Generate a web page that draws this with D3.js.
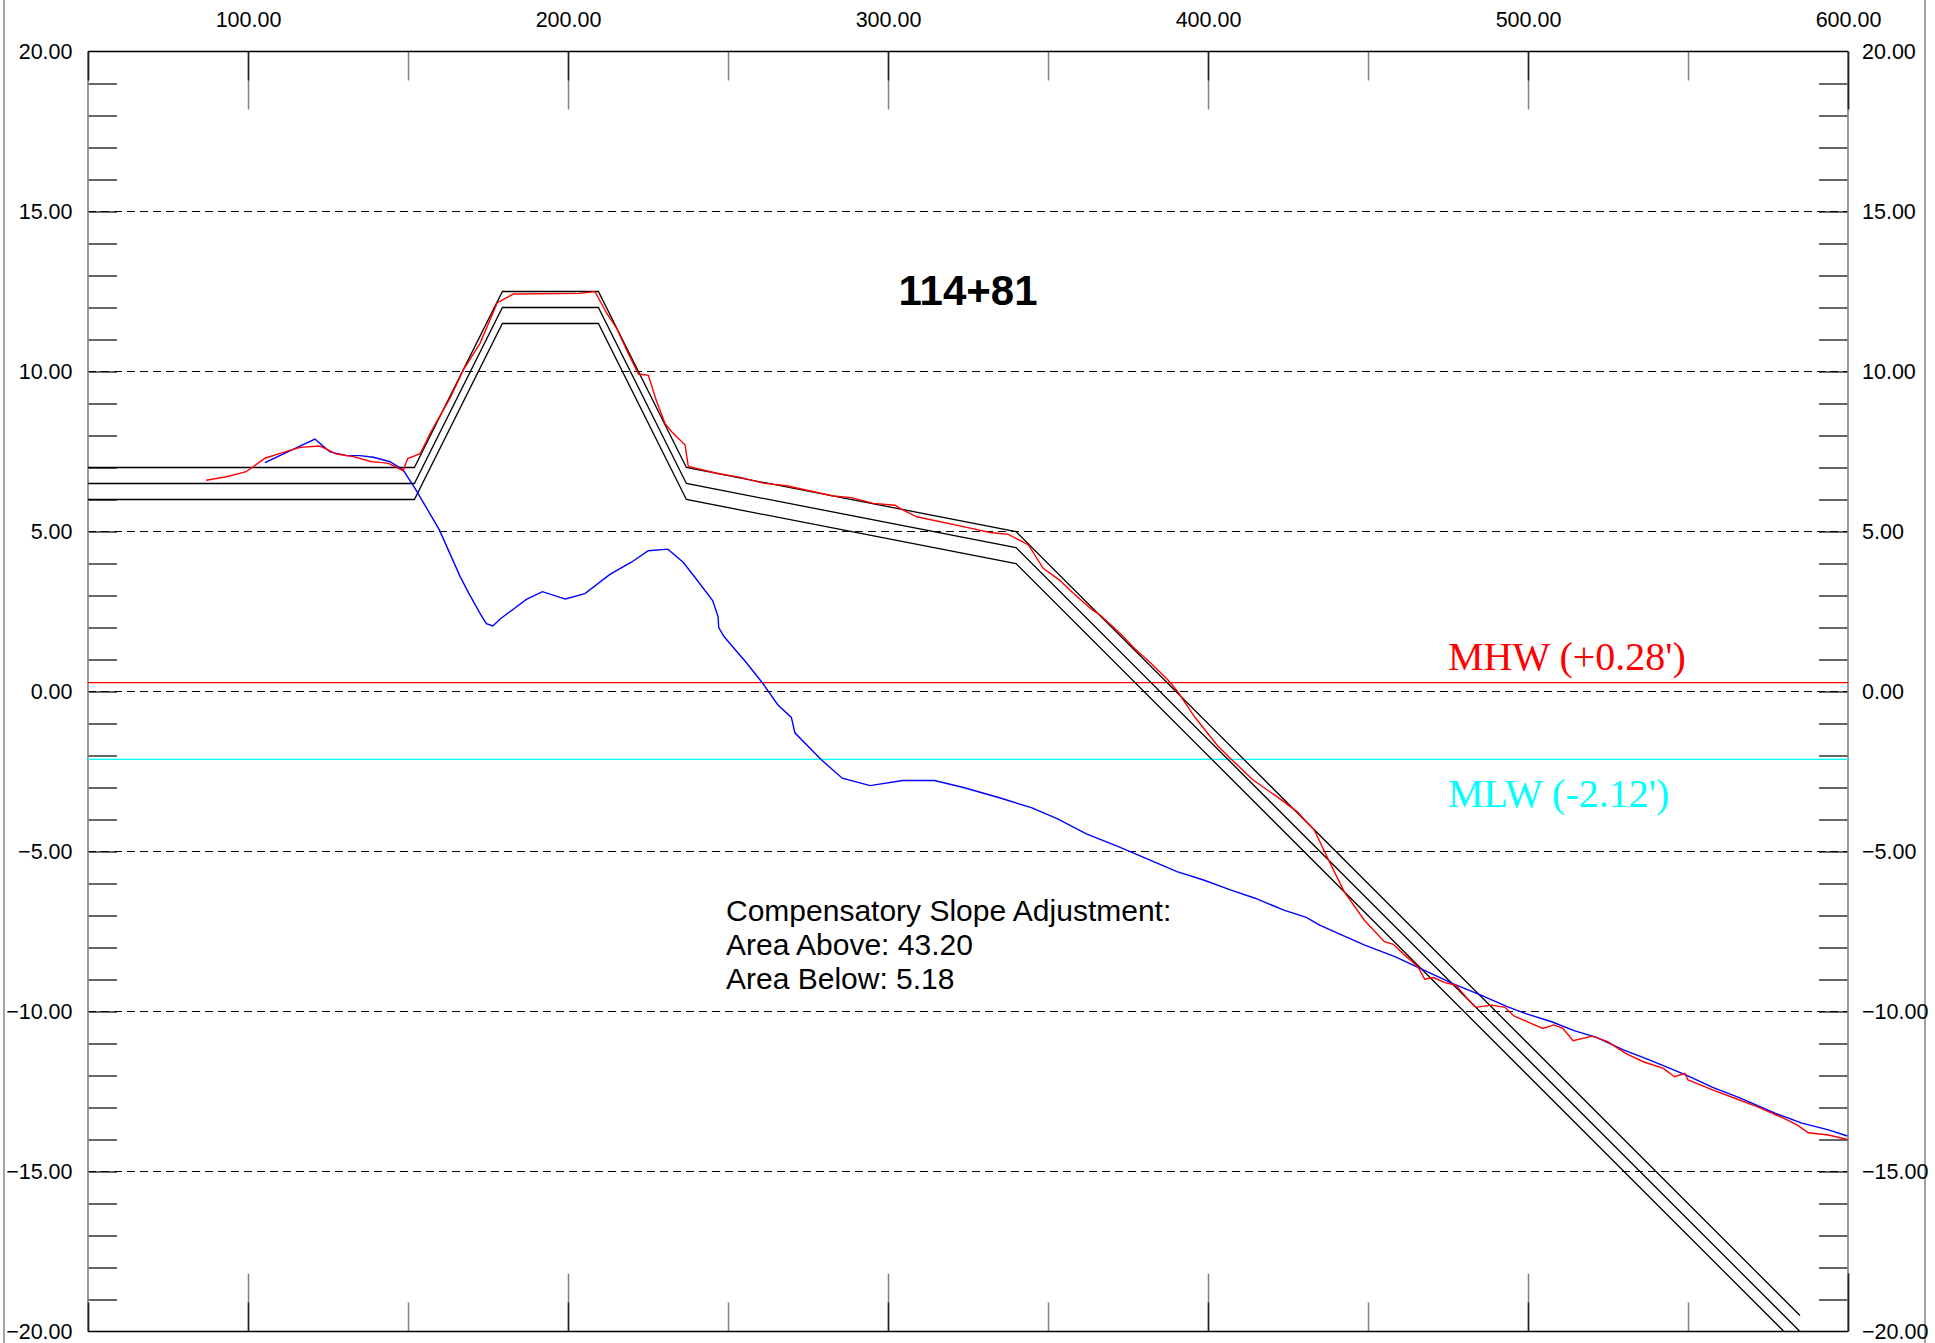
<!DOCTYPE html>
<html>
<head>
<meta charset="utf-8">
<script src="https://cdn.jsdelivr.net/npm/d3@7"></script>
<style>
  html, body { margin: 0; padding: 0; background: #fff; }
  svg { display: block; }
</style>
</head>
<body>
<script>
// ---------------- DATA ----------------
const xMinorTicks = [50, 150, 250, 350, 450, 550];
const xMajorTicks = [100, 200, 300, 400, 500, 600];
const xTickLabels = ["100.00", "200.00", "300.00", "400.00", "500.00", "600.00"];
const yTicks = [19,18,17,16,15,14,13,12,11,10,9,8,7,6,5,4,3,2,1,0,-1,-2,-3,-4,-5,-6,-7,-8,-9,-10,-11,-12,-13,-14,-15,-16,-17,-18,-19];
const yGridValues = [15, 10, 5, 0, -5, -10, -15];
const yLabelValues = [20, 15, 10, 5, 0, -5, -10, -15, -20];

// design template (three parallel lines)
const designX   = [50, 152, 179.5, 209.5, 237, 340, 585];
const designTop = [7.0, 7.0, 12.5, 12.5, 7.0, 5.0, -19.5];
const designMid = [6.5, 6.5, 12.0, 12.0, 6.5, 4.5, -20.0];
const designBot = [6.0, 6.0, 11.5, 11.5, 6.0, 4.0, -20.5];

// red profile
const redX = [86.9, 93.3, 99.4, 101.7, 105.3, 110.0, 116.3, 122.5, 127.7, 132.9, 138.6, 141.3, 143.9, 148.5, 149.9, 153.8, 156.9, 163.1, 167.3, 172.5, 177.9, 182.9, 203.8, 208.4, 212.1, 215.2, 218.3, 222.0, 225.1, 227.7, 230.3, 232.4, 236.6, 237.6, 246.5, 253.8, 261.0, 268.3, 282.9, 288.6, 295.4, 302.2, 304.3, 309.0, 324.6, 331.9, 337.6, 343.9, 348.5, 353.5, 358.0, 363.8, 366.3, 372.5, 377.0, 382.0, 387.5, 390.5, 395.8, 402.8, 407.0, 414.0, 422.3, 427.9, 433.2, 437.7, 442.6, 448.8, 455.1, 457.9, 461.4, 465.6, 467.7, 470.5, 474.0, 477.4, 481.0, 483.7, 488.6, 492.8, 495.6, 504.6, 508.1, 510.9, 514.1, 520.0, 524.9, 530.5, 536.0, 542.3, 545.8, 549.0, 550.0, 557.7, 564.6, 571.6, 580.0, 584.2, 587.6, 593.9, 599.8];
const redY = [6.60, 6.71, 6.87, 7.03, 7.29, 7.44, 7.63, 7.67, 7.42, 7.34, 7.18, 7.16, 7.13, 6.90, 7.28, 7.43, 8.07, 9.16, 10.05, 10.88, 12.15, 12.42, 12.44, 12.50, 11.82, 11.35, 10.67, 9.92, 9.88, 9.06, 8.38, 8.12, 7.70, 7.03, 6.82, 6.69, 6.51, 6.43, 6.11, 6.06, 5.88, 5.82, 5.69, 5.46, 5.13, 4.97, 4.91, 4.58, 3.85, 3.49, 3.06, 2.55, 2.39, 1.82, 1.35, 0.90, 0.36, 0.00, -0.79, -1.67, -2.09, -2.76, -3.34, -3.76, -4.33, -5.27, -6.26, -7.14, -7.82, -7.90, -8.23, -8.60, -8.99, -8.94, -9.10, -9.17, -9.59, -9.87, -9.80, -9.87, -10.14, -10.53, -10.42, -10.53, -10.91, -10.77, -10.94, -11.31, -11.57, -11.78, -12.04, -11.93, -12.14, -12.45, -12.71, -12.97, -13.34, -13.55, -13.79, -13.86, -14.00];

// blue profile
const blueX = [105.3, 120.9, 125.6, 130.8, 135.0, 139.2, 144.4, 148.5, 152.2, 159.8, 166.3, 168.9, 172.5, 174.5, 176.5, 179.0, 183.0, 187.0, 192.0, 197.5, 199.2, 205.3, 213.1, 219.8, 225.1, 231.2, 236.0, 239.9, 245.2, 246.9, 247.1, 248.8, 255.5, 260.6, 265.6, 269.8, 270.9, 279.0, 285.7, 294.4, 304.6, 314.5, 323.6, 334.8, 344.8, 353.0, 362.0, 372.0, 381.9, 390.3, 398.6, 407.0, 414.7, 423.7, 430.7, 434.9, 441.9, 448.8, 458.6, 465.6, 476.7, 485.1, 493.5, 499.1, 507.4, 514.4, 521.4, 529.8, 538.1, 549.3, 557.7, 566.0, 577.2, 585.6, 593.9, 599.8];
const blueY = [7.15, 7.89, 7.49, 7.37, 7.37, 7.32, 7.18, 6.92, 6.35, 5.05, 3.59, 3.09, 2.44, 2.12, 2.05, 2.28, 2.58, 2.88, 3.12, 2.94, 2.89, 3.06, 3.66, 4.04, 4.40, 4.45, 4.04, 3.54, 2.84, 2.34, 2.00, 1.71, 0.93, 0.29, -0.42, -0.81, -1.29, -2.12, -2.71, -2.94, -2.78, -2.78, -3.00, -3.32, -3.63, -3.98, -4.45, -4.85, -5.27, -5.63, -5.89, -6.20, -6.46, -6.83, -7.06, -7.30, -7.61, -7.92, -8.29, -8.62, -9.14, -9.48, -9.85, -10.06, -10.32, -10.60, -10.81, -11.20, -11.52, -11.98, -12.37, -12.69, -13.18, -13.49, -13.70, -13.89];

// tidal datums
const mhwValue = 0.28;
const mlwValue = -2.12;
const mhwLabel = "MHW (+0.28')";
const mlwLabel = "MLW (-2.12')";
const titleText = "114+81";
const noteLines = ["Compensatory Slope Adjustment:", "Area Above: 43.20", "Area Below: 5.18"];

// ---------------- CHART ----------------
const SANS = "Arial, 'Liberation Sans', sans-serif";
const SERIF = "'Times New Roman', 'Liberation Serif', serif";
const W = 1935, H = 1343;
const x = d3.scaleLinear().domain([50, 600]).range([88, 1848]);
const y = d3.scaleLinear().domain([-20, 20]).range([1331.5, 51.5]);
const fmt = d3.format(".2f");

const svg = d3.select("body").append("svg").attr("width", W).attr("height", H);
svg.append("rect").attr("width", W).attr("height", H).attr("fill", "#fff");

// outer frame lines
svg.append("line").attr("x1", 4).attr("x2", 4).attr("y1", 0).attr("y2", H).attr("stroke", "#666").attr("stroke-width", 1.2);
svg.append("line").attr("x1", 1925).attr("x2", 1925).attr("y1", 0).attr("y2", H).attr("stroke", "#666").attr("stroke-width", 1.2);

svg.append("clipPath").attr("id", "plot").append("rect")
  .attr("x", x(50)).attr("y", y(20)).attr("width", x(600) - x(50)).attr("height", y(-20) - y(20));

// dashed grid
svg.append("g").selectAll("line").data(yGridValues).join("line")
  .attr("x1", x(50)).attr("x2", x(600)).attr("y1", d => y(d)).attr("y2", d => y(d))
  .attr("stroke", "#000").attr("stroke-width", 1.2).attr("stroke-dasharray", "8,5");

// y ticks inward (left & right)
const tickStyle = g => { g.select(".domain").remove(); g.selectAll(".tick line").attr("stroke", "#000").attr("stroke-width", 1.2); };
svg.append("g").attr("transform", `translate(${x(50)},0)`)
  .call(d3.axisRight(y).tickValues(yTicks).tickSize(29).tickFormat("")).call(tickStyle);
svg.append("g").attr("transform", `translate(${x(600)},0)`)
  .call(d3.axisLeft(y).tickValues(yTicks).tickSize(29).tickFormat("")).call(tickStyle);

// x ticks inward (top & bottom)
const grayTick = g => { g.select(".domain").remove(); g.selectAll(".tick line").attr("stroke", "#808080").attr("stroke-width", 1.5); };
const blackTick = g => { g.select(".domain").remove(); g.selectAll(".tick line").attr("stroke", "#222").attr("stroke-width", 1.5); };
svg.append("g").attr("transform", `translate(0,${y(20)})`)
  .call(d3.axisBottom(x).tickValues(xMajorTicks).tickSize(58).tickFormat("")).call(grayTick);
svg.append("g").attr("transform", `translate(0,${y(20)})`)
  .call(d3.axisBottom(x).tickValues(xMinorTicks).tickSize(29).tickFormat("")).call(grayTick);
svg.append("g").attr("transform", `translate(0,${y(-20)})`)
  .call(d3.axisTop(x).tickValues(xMajorTicks).tickSize(58).tickFormat("")).call(grayTick);
svg.append("g").attr("transform", `translate(0,${y(-20)})`)
  .call(d3.axisTop(x).tickValues(xMinorTicks).tickSize(29).tickFormat("")).call(grayTick);

// vertical axis lines (gray)
svg.append("line").attr("x1", x(50)).attr("x2", x(50)).attr("y1", y(20)).attr("y2", y(-20)).attr("stroke", "#808080").attr("stroke-width", 1.6);
svg.append("line").attr("x1", x(600)).attr("x2", x(600)).attr("y1", y(20)).attr("y2", y(-20)).attr("stroke", "#808080").attr("stroke-width", 1.6);

// dark portions of ticks
svg.append("g").attr("transform", `translate(0,${y(20)})`)
  .call(d3.axisBottom(x).tickValues(xMajorTicks.slice(0, 5)).tickSize(29).tickFormat("")).call(blackTick);
svg.append("g").attr("transform", `translate(0,${y(-20)})`)
  .call(d3.axisTop(x).tickValues(xMajorTicks.slice(0, 5)).tickSize(29).tickFormat("")).call(blackTick);
svg.append("g").attr("transform", `translate(0,${y(20)})`)
  .call(d3.axisBottom(x).tickValues([600]).tickSize(58).tickFormat("")).call(blackTick);
svg.append("g").attr("transform", `translate(0,${y(-20)})`)
  .call(d3.axisTop(x).tickValues([600]).tickSize(58).tickFormat("")).call(blackTick);
svg.append("g").attr("transform", `translate(0,${y(20)})`)
  .call(d3.axisBottom(x).tickValues([50]).tickSize(29).tickFormat("")).call(blackTick);
svg.append("g").attr("transform", `translate(0,${y(-20)})`)
  .call(d3.axisTop(x).tickValues([50]).tickSize(29).tickFormat("")).call(blackTick);

// horizontal axis lines (black)
svg.append("line").attr("x1", x(50)).attr("x2", x(600)).attr("y1", y(20)).attr("y2", y(20)).attr("stroke", "#000").attr("stroke-width", 1.5);
svg.append("line").attr("x1", x(50)).attr("x2", x(600)).attr("y1", y(-20)).attr("y2", y(-20)).attr("stroke", "#000").attr("stroke-width", 1.5);

// labels
const labelStyle = g => { g.select(".domain").remove(); g.selectAll(".tick line").remove();
  g.selectAll("text").attr("fill", "#000").style("font-size", "21.5px").style("font-family", SANS); };
svg.append("g").attr("transform", `translate(${x(50)},0)`)
  .call(d3.axisLeft(y).tickValues(yLabelValues).tickSize(0).tickPadding(15.5).tickFormat(fmt)).call(labelStyle);
svg.append("g").attr("transform", `translate(${x(600)},0)`)
  .call(d3.axisRight(y).tickValues(yLabelValues).tickSize(0).tickPadding(14).tickFormat(fmt)).call(labelStyle);
svg.append("g").attr("transform", `translate(0,${y(20)})`)
  .call(d3.axisTop(x).tickValues(xMajorTicks).tickSize(0).tickPadding(24.5).tickFormat((d, i) => xTickLabels[i])).call(labelStyle);

// tidal lines
svg.append("line").attr("x1", x(50)).attr("x2", x(600)).attr("y1", y(mhwValue)).attr("y2", y(mhwValue))
  .attr("stroke", "#ff0000").attr("stroke-width", 1.3);
svg.append("line").attr("x1", x(50)).attr("x2", x(600)).attr("y1", y(mlwValue)).attr("y2", y(mlwValue))
  .attr("stroke", "#00ffff").attr("stroke-width", 1.3);
svg.append("text").attr("x", x(475)).attr("y", y(mhwValue) - 12.5).text(mhwLabel)
  .style("font-family", SERIF).style("font-size", "40px").attr("fill", "#ff0000");
svg.append("text").attr("x", x(475)).attr("y", y(mlwValue) + 47.5).text(mlwLabel)
  .style("font-family", SERIF).style("font-size", "40px").attr("fill", "#00ffff");

// profile lines
const plot = svg.append("g").attr("clip-path", "url(#plot)");
const line = d3.line().x(d => x(d[0])).y(d => y(d[1]));
const zip = (xs, ys) => xs.map((v, i) => [v, ys[i]]);
[designTop, designMid, designBot].forEach(ys => {
  plot.append("path").attr("d", line(zip(designX, ys))).attr("fill", "none").attr("stroke", "#000").attr("stroke-width", 1.3);
});
plot.append("path").attr("d", line(zip(blueX, blueY))).attr("fill", "none").attr("stroke", "#0000ff").attr("stroke-width", 1.4);
plot.append("path").attr("d", line(zip(redX, redY))).attr("fill", "none").attr("stroke", "#ff0000").attr("stroke-width", 1.4);

// title
svg.append("text").attr("x", (x(50) + x(600)) / 2).attr("y", 305).attr("text-anchor", "middle")
  .style("font-family", SANS).style("font-size", "42px").style("font-weight", "bold").attr("fill", "#000").text(titleText);

// note (one text block, three lines)
const note = svg.append("text").attr("x", 726).attr("y", 921)
  .style("font-family", SANS).style("font-size", "30px").attr("fill", "#000");
note.selectAll("tspan").data(noteLines).join("tspan")
  .attr("x", 726).attr("dy", (d, i) => i === 0 ? 0 : 34).text(d => d);
</script>
</body>
</html>
